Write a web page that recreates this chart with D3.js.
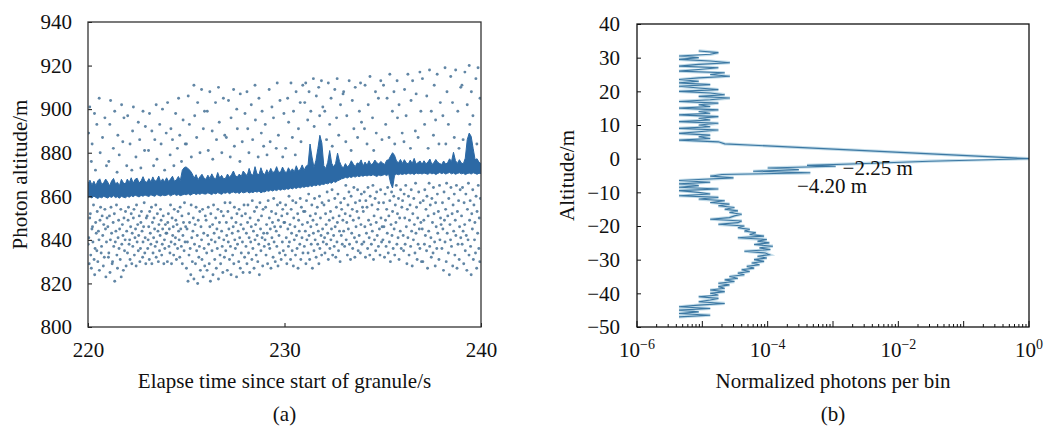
<!DOCTYPE html>
<html>
<head>
<meta charset="utf-8">
<script src="https://cdn.jsdelivr.net/npm/d3@7"></script>
<style>
  body { margin: 0; background: #fff; }
  svg { display: block; }
</style>
</head>
<body>
<svg id="chart" width="1044" height="428"></svg>
<script>
// ---------- panel (a): photon cloud ----------
const timeTicks = [220, 230, 240];
const altTicks = [800, 820, 840, 860, 880, 900, 920, 940];

// surface band, sampled every 0.1 s from 220.0 to 240.0
const bandStart = 220, bandStep = 0.1;
const bandTop = [
  865.8, 867.4, 865.2, 866.9, 864.9, 867.1, 868.0, 865.4, 866.3, 867.9,
  866.6, 864.8, 867.0, 868.2, 865.7, 866.4, 864.9, 867.8, 866.2, 865.6,
  867.9, 866.3, 868.5, 866.0, 867.8, 868.3, 866.2, 867.0, 869.0, 866.8,
  866.4, 868.1, 866.6, 868.9, 866.9, 867.4, 869.3, 866.6, 868.0, 866.7,
  868.5, 866.8, 867.9, 869.2, 866.9, 867.6, 869.1, 867.3, 872.0, 873.2,
  873.5, 872.6, 871.8, 870.4, 868.3, 869.9, 867.6, 869.0, 870.1, 868.4,
  867.8, 869.7, 868.2, 870.3, 868.5, 867.9, 870.9, 868.4, 869.6, 868.0,
  868.3, 870.2, 868.7, 869.9, 871.6, 869.4, 868.9, 870.2, 869.1, 871.6,
  870.4, 869.5, 872.8, 870.1, 869.7, 873.6, 870.3, 869.9, 873.1, 870.6,
  870.0, 872.2, 870.5, 872.8, 870.9, 871.4, 873.6, 871.0, 871.1, 873.4,
  871.5, 870.8, 873.1, 871.4, 872.6, 871.2, 874.0, 871.7, 872.3, 874.4,
  872.0, 873.8, 874.5, 884.0, 878.0, 873.2, 876.5, 882.0, 888.0, 884.5,
  874.0, 872.8, 875.6, 881.0, 875.2, 873.4, 875.1, 879.8, 876.0, 873.8,
  873.1, 875.0, 873.5, 874.4, 876.3, 874.8, 873.6, 875.3, 875.0, 876.7,
  873.9, 875.7, 874.2, 876.3, 874.5, 875.0, 876.6, 875.4, 874.8, 876.0,
  875.2, 874.6, 876.5, 876.8, 878.5, 880.0, 878.8, 876.2, 875.4, 876.9,
  875.1, 876.8, 875.3, 874.9, 876.6, 875.0, 877.4, 874.8, 875.5, 876.2,
  874.7, 876.3, 874.9, 875.7, 877.1, 874.6, 875.4, 876.9, 875.6, 875.0,
  874.6, 876.2, 874.8, 875.4, 877.2, 876.0, 880.2, 876.4, 875.1, 876.8,
  875.3, 874.9, 877.5, 886.0, 889.0, 887.5, 882.0, 876.8, 877.2, 875.6,
  875.0
];
const bandBottom = [
  859.4, 859.8, 859.2, 860.1, 859.5, 859.0, 859.7, 859.3, 860.0, 859.6,
  859.2, 859.9, 859.5, 860.2, 859.4, 859.8, 859.1, 860.0, 859.6, 859.3,
  860.0, 859.6, 860.3, 859.8, 860.5, 860.1, 859.7, 860.4, 860.0, 860.6,
  860.2, 859.9, 860.7, 860.3, 860.0, 860.8, 860.4, 860.1, 860.6, 860.3,
  860.5, 860.9, 860.2, 860.7, 861.0, 860.4, 860.8, 860.3, 860.6, 860.9,
  860.7, 861.2, 860.5, 861.0, 861.4, 860.8, 861.3, 860.9, 861.5, 861.1,
  861.0, 861.6, 861.2, 860.8, 861.5, 861.1, 861.7, 861.3, 860.9, 861.6,
  861.4, 861.9, 861.2, 861.7, 862.0, 861.5, 861.8, 861.3, 862.1, 861.6,
  861.8, 862.2, 861.5, 862.0, 861.7, 862.3, 861.9, 862.4, 861.6, 862.1,
  862.0, 862.6, 862.3, 862.9, 862.4, 863.0, 862.6, 863.2, 862.8, 863.3,
  863.0, 863.5, 863.2, 863.8, 863.4, 864.0, 863.6, 864.2, 863.8, 864.4,
  864.1, 864.6, 864.3, 864.9, 864.5, 865.2, 864.8, 865.4, 865.0, 865.6,
  865.4, 866.0, 865.7, 866.3, 866.0, 866.8, 866.4, 867.1, 867.5, 868.0,
  868.2, 868.7, 868.4, 869.0, 868.6, 869.2, 868.8, 869.4, 869.0, 869.5,
  869.2, 869.7, 869.3, 869.8, 869.4, 869.9, 869.5, 869.1, 869.8, 869.4,
  869.7, 870.0, 869.5, 870.2, 866.0, 863.8, 869.6, 870.2, 869.9, 870.3,
  870.0, 870.4, 870.1, 870.6, 870.2, 870.5, 870.0, 870.7, 870.3, 870.6,
  870.2, 870.7, 870.4, 870.1, 870.8, 870.3, 870.6, 870.0, 870.5, 870.9,
  870.4, 870.8, 870.2, 870.6, 870.9, 870.3, 870.7, 870.1, 870.5, 870.8,
  870.3, 870.6, 870.0, 870.4, 870.7, 870.2, 870.8, 870.5, 870.1, 870.6,
  870.4
];

// background photons above the surface: per one-second window,
// time offsets (s) and altitudes (m) of each photon
const noiseAbove = [
  { sec: 220, dt: [.03, .09, .17, .21, .33, .38, .45, .57, .62, .74, .86, .94], alt: [889, 901, 876, 884, 898, 872, 893, 905, 880, 887, 896, 874] },
  { sec: 221, dt: [.06, .11, .15, .29, .36, .48, .52, .59, .71, .77, .83, .97], alt: [876, 893, 904, 882, 899, 871, 888, 879, 902, 885, 896, 874] },
  { sec: 222, dt: [.02, .14, .23, .27, .31, .44, .56, .63, .69, .80, .88, .92], alt: [897, 884, 872, 890, 901, 878, 894, 886, 873, 899, 881, 892] },
  { sec: 223, dt: [.08, .13, .25, .34, .40, .47, .51, .65, .72, .79, .90, .98], alt: [881, 898, 890, 874, 886, 902, 877, 893, 884, 900, 872, 889] },
  { sec: 224, dt: [.05, .18, .22, .30, .37, .46, .55, .61, .67, .76, .84, .95], alt: [903, 879, 891, 886, 874, 898, 882, 905, 888, 876, 895, 884] },
  { sec: 225, dt: [.01, .10, .16, .26, .39, .43, .53, .58, .70, .78, .87, .93], alt: [884, 906, 893, 878, 911, 897, 887, 903, 880, 909, 891, 899] },
  { sec: 226, dt: [.07, .12, .20, .32, .35, .49, .54, .64, .68, .81, .89, .96], alt: [899, 881, 908, 890, 877, 903, 886, 910, 894, 880, 905, 888] },
  { sec: 227, dt: [.04, .15, .24, .28, .41, .45, .57, .60, .73, .75, .85, .99], alt: [887, 904, 878, 896, 909, 883, 900, 891, 876, 907, 885, 898] },
  { sec: 228, dt: [.09, .13, .19, .31, .38, .50, .52, .66, .70, .82, .86, .94], alt: [908, 891, 880, 902, 886, 911, 895, 878, 905, 889, 899, 883] },
  { sec: 229, dt: [.02, .11, .22, .27, .36, .44, .58, .63, .69, .77, .91, .97], alt: [893, 879, 909, 885, 901, 896, 882, 912, 888, 904, 878, 898] },
  { sec: 230, dt: [.06, .16, .21, .33, .40, .46, .55, .59, .71, .80, .84, .93], alt: [882, 905, 894, 912, 887, 899, 879, 908, 891, 903, 885, 911] },
  { sec: 231, dt: [.03, .08, .18, .25, .34, .47, .51, .62, .74, .79, .88, .95], alt: [903, 912, 895, 908, 899, 914, 892, 906, 910, 897, 913, 901] },
  { sec: 232, dt: [.05, .14, .23, .30, .37, .43, .56, .65, .68, .76, .85, .98], alt: [899, 886, 912, 893, 905, 883, 909, 896, 914, 888, 902, 907] },
  { sec: 233, dt: [.01, .12, .17, .29, .39, .45, .53, .60, .72, .81, .87, .92], alt: [908, 885, 897, 913, 881, 904, 891, 910, 887, 899, 912, 894] },
  { sec: 234, dt: [.07, .10, .20, .26, .35, .48, .54, .63, .67, .78, .90, .96], alt: [891, 911, 884, 902, 915, 896, 881, 908, 889, 905, 913, 886] },
  { sec: 235, dt: [.04, .15, .22, .32, .36, .49, .57, .61, .73, .75, .83, .99], alt: [911, 893, 905, 887, 916, 899, 908, 884, 913, 896, 902, 889] },
  { sec: 236, dt: [.08, .11, .19, .28, .41, .44, .52, .66, .70, .80, .89, .94], alt: [885, 909, 897, 916, 882, 904, 913, 890, 907, 887, 917, 899] },
  { sec: 237, dt: [.02, .13, .24, .31, .38, .47, .58, .62, .69, .77, .86, .93], alt: [914, 893, 906, 882, 918, 899, 888, 911, 895, 916, 884, 903] },
  { sec: 238, dt: [.06, .17, .21, .27, .34, .46, .55, .64, .71, .82, .88, .97], alt: [897, 919, 884, 908, 893, 915, 903, 887, 918, 899, 882, 910] },
  { sec: 239, dt: [.03, .09, .18, .30, .40, .43, .51, .59, .74, .79, .85, .95], alt: [911, 886, 917, 902, 920, 893, 908, 897, 914, 884, 919, 905] }
];

// background photons below the surface: per one-second window the altitudes
// in time order, at the shared time offsets below
const belowOffsets = [0.01, 0.04, 0.06, 0.09, 0.12, 0.14, 0.17, 0.20, 0.23, 0.25, 0.28, 0.31,
  0.34, 0.36, 0.39, 0.42, 0.45, 0.47, 0.50, 0.53, 0.56, 0.58, 0.61, 0.64,
  0.67, 0.69, 0.72, 0.75, 0.78, 0.80, 0.83, 0.86, 0.89, 0.91, 0.94, 0.97];
const noiseBelow = [
  { sec: 220, alt: [838, 841, 829, 850, 852, 833, 827, 845, 846, 839, 856, 831, 824, 836, 848, 843, 835, 853, 830, 844, 840, 826, 849, 855, 834, 837, 851, 842, 828, 847, 832, 854, 845, 823, 839, 850] },
  { sec: 221, alt: [846, 832, 834, 851, 825, 840, 855, 843, 829, 830, 848, 837, 852, 821, 839, 844, 856, 833, 827, 841, 849, 836, 845, 831, 854, 823, 838, 847, 842, 826, 850, 835, 840, 853, 828, 844] },
  { sec: 222, alt: [834, 849, 855, 838, 840, 831, 846, 852, 829, 843, 837, 850, 854, 833, 841, 845, 828, 856, 839, 847, 835, 842, 851, 830, 836, 848, 853, 844, 832, 839, 846, 857, 834, 841, 829, 850] },
  { sec: 223, alt: [851, 836, 840, 846, 831, 853, 843, 838, 855, 829, 848, 834, 841, 850, 845, 837, 856, 832, 839, 852, 844, 830, 847, 835, 842, 854, 849, 833, 838, 845, 851, 829, 840, 836, 847, 843] },
  { sec: 224, alt: [843, 830, 848, 852, 837, 845, 834, 856, 839, 829, 850, 842, 846, 833, 854, 838, 841, 849, 831, 847, 836, 853, 844, 840, 832, 855, 845, 837, 851, 829, 842, 848, 835, 857, 839, 846] },
  { sec: 225, alt: [827, 845, 839, 821, 852, 833, 848, 836, 824, 856, 841, 830, 844, 850, 822, 838, 847, 829, 855, 835, 842, 820, 849, 832, 837, 853, 826, 846, 840, 831, 854, 823, 843, 836, 828, 851] },
  { sec: 226, alt: [849, 834, 826, 842, 855, 838, 829, 846, 821, 852, 840, 835, 847, 824, 856, 843, 831, 839, 850, 827, 845, 836, 854, 822, 841, 848, 833, 829, 853, 844, 837, 825, 851, 840, 832, 857] },
  { sec: 227, alt: [835, 848, 842, 826, 853, 839, 845, 831, 857, 837, 824, 850, 843, 833, 846, 829, 855, 840, 836, 848, 823, 852, 838, 844, 830, 854, 841, 827, 847, 834, 851, 839, 825, 845, 856, 832] },
  { sec: 228, alt: [852, 837, 843, 829, 848, 856, 834, 841, 825, 850, 839, 846, 831, 858, 836, 844, 827, 853, 840, 847, 833, 855, 842, 830, 849, 838, 824, 857, 845, 835, 851, 841, 828, 854, 843, 837] },
  { sec: 229, alt: [840, 855, 833, 847, 843, 829, 858, 838, 850, 836, 845, 827, 853, 841, 848, 832, 859, 839, 846, 830, 852, 844, 837, 856, 828, 849, 842, 834, 857, 846, 831, 851, 839, 854, 835, 848] },
  { sec: 230, alt: [848, 833, 856, 841, 829, 852, 845, 837, 860, 839, 847, 831, 854, 843, 835, 858, 828, 850, 840, 846, 833, 857, 842, 836, 852, 827, 849, 844, 838, 859, 831, 855, 841, 847, 834, 853] },
  { sec: 231, alt: [837, 853, 844, 829, 858, 840, 848, 834, 861, 842, 831, 851, 846, 838, 856, 827, 849, 843, 835, 859, 840, 852, 832, 847, 855, 838, 844, 829, 860, 836, 850, 842, 833, 857, 845, 839] },
  { sec: 232, alt: [856, 841, 834, 852, 847, 838, 862, 843, 831, 858, 849, 836, 853, 840, 845, 863, 833, 850, 842, 837, 859, 846, 832, 855, 839, 848, 861, 835, 851, 844, 830, 857, 842, 854, 838, 849] },
  { sec: 233, alt: [844, 859, 837, 852, 865, 840, 848, 833, 856, 845, 862, 838, 851, 831, 860, 843, 854, 836, 849, 864, 841, 832, 857, 846, 839, 853, 863, 835, 850, 842, 858, 834, 847, 861, 838, 855] },
  { sec: 234, alt: [853, 839, 862, 846, 832, 858, 843, 855, 836, 864, 849, 841, 833, 860, 847, 838, 856, 844, 865, 831, 851, 840, 859, 835, 848, 862, 842, 854, 837, 857, 845, 833, 863, 850, 839, 846] },
  { sec: 235, alt: [840, 857, 846, 832, 861, 849, 837, 854, 843, 864, 834, 851, 839, 858, 830, 847, 862, 842, 853, 836, 860, 845, 833, 856, 848, 865, 838, 852, 841, 859, 831, 850, 844, 863, 836, 855] },
  { sec: 236, alt: [858, 842, 835, 861, 850, 838, 865, 846, 829, 854, 841, 860, 833, 849, 856, 837, 863, 844, 828, 852, 840, 859, 847, 834, 866, 843, 855, 831, 850, 838, 862, 845, 836, 857, 848, 830] },
  { sec: 237, alt: [845, 830, 858, 849, 838, 863, 842, 854, 835, 860, 827, 851, 844, 866, 837, 856, 841, 832, 859, 848, 834, 864, 852, 839, 828, 857, 846, 836, 861, 843, 853, 831, 865, 840, 850, 847] },
  { sec: 238, alt: [836, 857, 845, 826, 862, 849, 839, 854, 830, 866, 843, 851, 834, 859, 824, 847, 840, 864, 837, 852, 828, 856, 844, 861, 833, 849, 842, 865, 827, 853, 838, 858, 831, 846, 863, 841] },
  { sec: 239, alt: [851, 838, 864, 844, 829, 857, 847, 835, 861, 842, 826, 854, 840, 866, 833, 849, 858, 837, 824, 852, 845, 863, 831, 856, 840, 848, 834, 860, 827, 853, 843, 865, 836, 850, 830, 859] }
];

// ---------- panel (b): vertical photon histogram ----------
const depthTicks = [-50, -40, -30, -20, -10, 0, 10, 20, 30, 40];
const photonLabels = [1e-6, 1e-4, 1e-2, 1];
// [altitude m, normalized photons per bin]
const profile = [
  [32.0,8.8e-6],[31.5,1.76e-5],[31.0,1.32e-5],[30.5,4.4e-6],[30.0,8.8e-6],[29.5,4.4e-6],[29.0,1.32e-5],[28.5,2.64e-5],
  [28.0,8.8e-6],[27.5,4.4e-6],[27.0,1.76e-5],[26.5,8.8e-6],[26.0,4.4e-6],[25.5,2.2e-5],[25.0,1.32e-5],[24.5,2.64e-5],
  [24.0,8.8e-6],[23.5,4.4e-6],[23.0,8.8e-6],[22.5,4.4e-6],[22.0,1.32e-5],[21.5,4.4e-6],[21.0,8.8e-6],[20.5,1.76e-5],
  [20.0,4.4e-6],[19.5,1.32e-5],[19.0,2.2e-5],[18.5,8.8e-6],[18.0,2.64e-5],[17.5,1.32e-5],[17.0,4.4e-6],[16.5,1.76e-5],
  [16.0,8.8e-6],[15.5,1.32e-5],[15.0,4.4e-6],[14.5,1.76e-5],[14.0,8.8e-6],[13.5,1.32e-5],[13.0,4.4e-6],[12.5,1.76e-5],
  [12.0,8.8e-6],[11.5,1.32e-5],[11.0,4.4e-6],[10.5,1.76e-5],[10.0,8.8e-6],[9.5,1.32e-5],[9.0,4.4e-6],[8.5,1.76e-5],
  [8.0,8.8e-6],[7.5,4.4e-6],[7.0,1.32e-5],[6.5,8.8e-6],[6.0,1.32e-5],[5.5,4.4e-6],[5.0,1.76e-5],[4.4,2.2e-5],
  [0.0,1.0],[-0.75,0.03],[-1.5,2.5e-3],[-2.0,4e-4],[-2.25,1.1e-3],[-2.75,1.0e-4],[-3.25,3e-4],[-3.75,6e-5],
  [-4.2,4.5e-4],[-4.7,2e-5],[-5.2,1.32e-5],[-5.7,3e-5],[-6.2,8.8e-6],[-6.5,4.4e-6],[-7.0,1.32e-5],[-7.5,4.4e-6],
  [-8.0,8.8e-6],[-8.5,4.4e-6],[-9.0,1.76e-5],[-9.5,4.4e-6],[-10.0,8.8e-6],[-10.5,1.32e-5],[-11.0,4.4e-6],[-11.5,1.76e-5],
  [-12.0,8.8e-6],[-12.5,2.2e-5],[-13.0,1.32e-5],[-13.5,2.6e-5],[-14.0,1.76e-5],[-14.5,3.1e-5],[-15.0,2.2e-5],[-15.5,3.5e-5],
  [-16.0,2.6e-5],[-16.5,4.0e-5],[-17.0,3.1e-5],[-17.5,2.6e-5],[-18.0,1.32e-5],[-18.5,4.0e-5],[-19.0,3.5e-5],[-19.5,1.76e-5],
  [-20.0,4.4e-5],[-20.5,3.5e-5],[-21.0,5.3e-5],[-21.5,4.4e-5],[-22.0,6.6e-5],[-22.5,5.3e-5],[-23.0,8.8e-5],[-23.5,3.5e-5],
  [-24.0,9.7e-5],[-24.5,7.0e-5],[-25.0,1.06e-4],[-25.5,6.2e-5],[-26.0,1.2e-4],[-26.5,7.5e-5],[-27.0,1.1e-4],[-27.5,4.4e-5],
  [-28.0,9.2e-5],[-28.5,1.06e-4],[-29.0,7.0e-5],[-29.5,9.7e-5],[-30.0,6.2e-5],[-30.5,8.8e-5],[-31.0,5.7e-5],[-31.5,7.5e-5],
  [-32.0,4.8e-5],[-32.5,6.2e-5],[-33.0,4.0e-5],[-33.5,5.3e-5],[-34.0,3.5e-5],[-34.5,4.4e-5],[-35.0,2.6e-5],[-35.5,3.5e-5],
  [-36.0,2.2e-5],[-36.5,3.1e-5],[-37.0,1.76e-5],[-37.5,2.6e-5],[-38.0,1.76e-5],[-38.5,2.2e-5],[-39.0,1.32e-5],[-39.5,2.2e-5],
  [-40.0,1.32e-5],[-40.5,1.76e-5],[-41.0,8.8e-6],[-41.5,1.76e-5],[-42.0,1.32e-5],[-42.5,8.8e-6],[-43.0,2.2e-5],[-43.5,8.8e-6],
  [-44.0,4.4e-6],[-44.5,1.32e-5],[-45.0,4.4e-6],[-45.5,8.8e-6],[-46.0,4.4e-6],[-46.5,1.32e-5],[-47.0,4.4e-6]
];
// labels: text, anchor value (x), anchor altitude (y)
const annotations = [
  { text: "\u22122.25 m", at: 1.4e-3, alt: -2.6 },
  { text: "\u22124.20 m", at: 2.8e-4, alt: -8.1 }
];

const serif = "'Liberation Serif', 'Times New Roman', Times, serif";
const svg = d3.select("#chart").attr("font-family", serif);
const fontSize = 21;

// ===== panel (a) =====
const a = { left: 88, right: 481, top: 22, bottom: 327 };
const xA = d3.scaleLinear().domain([220, 240]).range([a.left, a.right]);
const yA = d3.scaleLinear().domain([800, 940]).range([a.bottom, a.top]);

const gA = svg.append("g");
gA.append("clipPath").attr("id", "clipA").append("rect")
  .attr("x", a.left).attr("y", a.top).attr("width", a.right - a.left).attr("height", a.bottom - a.top);
const plotA = gA.append("g").attr("clip-path", "url(#clipA)");

const dots = [];
noiseBelow.forEach(w => w.alt.forEach((v, i) => dots.push([w.sec + belowOffsets[i], v])));
noiseAbove.forEach(w => w.alt.forEach((v, i) => dots.push([w.sec + w.dt[i], v])));

plotA.selectAll("circle.noise").data(dots).join("circle")
  .attr("class", "noise")
  .attr("cx", d => xA(d[0]))
  .attr("cy", d => yA(d[1]))
  .attr("r", 1.45)
  .attr("fill", "#50799b")
  .attr("opacity", 0.9);

const band = bandTop.map((t, i) => ({ t: bandStart + i * bandStep, top: t, bot: bandBottom[i] }));
plotA.append("path")
  .datum(band)
  .attr("d", d3.area().x(d => xA(d.t)).y0(d => yA(d.bot)).y1(d => yA(d.top)))
  .attr("fill", "#2c69a5")
  .attr("stroke", "#2c69a5")
  .attr("stroke-width", 1);

gA.append("g")
  .attr("transform", `translate(0,${a.bottom})`)
  .call(d3.axisBottom(xA).tickValues(timeTicks).tickSizeInner(-4).tickSizeOuter(0).tickPadding(15))
  .call(g => g.select(".domain").remove());
gA.append("g")
  .attr("transform", `translate(${a.left},0)`)
  .call(d3.axisLeft(yA).tickValues(altTicks).tickSizeInner(-4).tickSizeOuter(0).tickPadding(16))
  .call(g => g.select(".domain").remove());

gA.append("rect")
  .attr("x", a.left).attr("y", a.top).attr("width", a.right - a.left).attr("height", a.bottom - a.top)
  .attr("fill", "none").attr("stroke", "#333").attr("stroke-width", 1.3);

gA.append("text")
  .attr("x", (a.left + a.right) / 2).attr("y", 388)
  .attr("text-anchor", "middle")
  .text("Elapse time since start of granule/s");
gA.append("text")
  .attr("x", (a.left + a.right) / 2).attr("y", 421)
  .attr("text-anchor", "middle")
  .text("(a)");
gA.append("text")
  .attr("transform", `translate(27,${(a.top + a.bottom) / 2}) rotate(-90)`)
  .attr("text-anchor", "middle")
  .text("Photon altitude/m");

// ===== panel (b) =====
const b = { left: 637, right: 1029, top: 24, bottom: 327 };
const xB = d3.scaleLog().domain([1e-6, 1]).range([b.left, b.right]);
const yB = d3.scaleLinear().domain([-50, 40]).range([b.bottom, b.top]);

const gB = svg.append("g");
gB.append("clipPath").attr("id", "clipB").append("rect")
  .attr("x", b.left).attr("y", b.top).attr("width", b.right - b.left + 1).attr("height", b.bottom - b.top);
const plotB = gB.append("g").attr("clip-path", "url(#clipB)");

const profileLine = d3.line().x(d => xB(d[1])).y(d => yB(d[0]));
plotB.append("path").datum(profile)
  .attr("d", profileLine)
  .attr("fill", "none").attr("stroke", "#a9cde0").attr("stroke-width", 3.2).attr("opacity", 0.7);
plotB.append("path").datum(profile)
  .attr("d", profileLine)
  .attr("fill", "none").attr("stroke", "#3c78a3").attr("stroke-width", 1.1);

// log ticks along bottom, pointing inward
const logTicks = xB.ticks();
gB.append("g").selectAll("line").data(logTicks).join("line")
  .attr("x1", d => xB(d)).attr("x2", d => xB(d))
  .attr("y1", b.bottom)
  .attr("y2", d => Math.abs(Math.log10(d) - Math.round(Math.log10(d))) < 1e-6 ? b.bottom - 6 : b.bottom - 3)
  .attr("stroke", "#111").attr("stroke-width", 1);

const xLab = gB.append("g").selectAll("text").data(photonLabels).join("text")
  .attr("x", d => xB(d)).attr("y", 357)
  .attr("text-anchor", "middle");
xLab.append("tspan").text("10");
xLab.append("tspan").attr("dy", -8).attr("font-size", 14)
  .text(d => String(Math.round(Math.log10(d))).replace("-", "\u2212"));

gB.append("g")
  .attr("transform", `translate(${b.left},0)`)
  .call(d3.axisLeft(yB).tickValues(depthTicks).tickSizeInner(-4).tickSizeOuter(0).tickPadding(17))
  .call(g => g.select(".domain").remove());

gB.append("rect")
  .attr("x", b.left).attr("y", b.top).attr("width", b.right - b.left).attr("height", b.bottom - b.top)
  .attr("fill", "none").attr("stroke", "#111").attr("stroke-width", 1.3);

gB.selectAll("text.note").data(annotations).join("text")
  .attr("class", "note")
  .attr("x", d => xB(d.at)).attr("y", d => yB(d.alt))
  .attr("dy", "0.35em")
  .text(d => d.text);

gB.append("text")
  .attr("x", (b.left + b.right) / 2).attr("y", 388)
  .attr("text-anchor", "middle")
  .text("Normalized photons per bin");
gB.append("text")
  .attr("x", (b.left + b.right) / 2).attr("y", 421)
  .attr("text-anchor", "middle")
  .text("(b)");
gB.append("text")
  .attr("transform", `translate(574,${(b.top + b.bottom) / 2}) rotate(-90)`)
  .attr("text-anchor", "middle")
  .text("Altitude/m");

// one serif face for every label, including the axis groups
svg.selectAll("g[font-family]").attr("font-family", null);
svg.selectAll("text").attr("font-family", serif).attr("fill", "#111");
svg.selectAll("text:not([font-size])").attr("font-size", fontSize);
svg.selectAll(".tick text").attr("font-size", fontSize);
svg.selectAll(".tick line").attr("stroke", "#111");
</script>
</body>
</html>
